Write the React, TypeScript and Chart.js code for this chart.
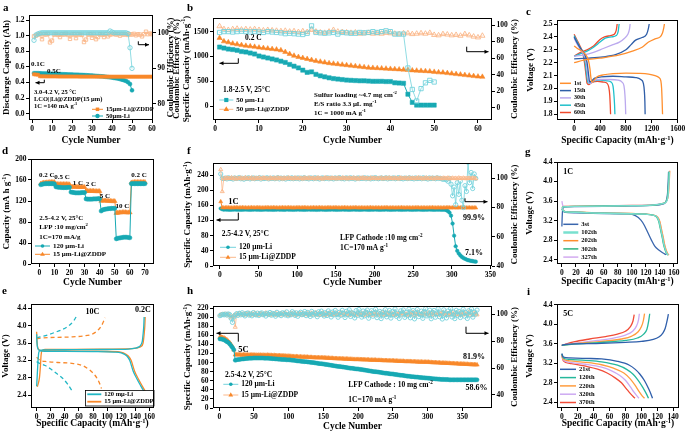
import React, { useEffect, useRef } from 'react';
import { Chart, registerables } from 'chart.js';
Chart.register(...registerables);

const FF = "'Liberation Serif','Times New Roman','DejaVu Serif',serif";
const ORANGE = '#f8882a';
const TEAL = '#17a9b3';
const LORANGE = '#fbb88a';
const LTEAL = '#74d3dc';

// ---------- panel a ----------
const aCapZddp = [0.505,0.502,0.5,0.48,0.479,0.479,0.478,0.478,0.478,0.478,
  0.478,0.478,0.477,0.477,0.477,0.477,0.477,0.477,0.477,0.477,
  0.477,0.477,0.477,0.476,0.476,0.476,0.476,0.476,0.476,0.476,
  0.476,0.476,0.476,0.476,0.476,0.476,0.475,0.475,0.475,0.475,
  0.475,0.475,0.475,0.475,0.475,0.475,0.475,0.475,0.475,0.475,
  0.475,0.475,0.475,0.475,0.475,0.475,0.475,0.475,0.475,0.475];
const aCapLi = [0.52,0.52,0.52,0.518,0.517,0.516,0.515,0.514,0.513,0.512,
  0.511,0.51,0.509,0.508,0.507,0.506,0.505,0.504,0.503,0.502,
  0.501,0.5,0.499,0.498,0.497,0.495,0.494,0.492,0.491,0.489,
  0.487,0.485,0.483,0.481,0.479,0.476,0.473,0.47,0.467,0.463,
  0.459,0.455,0.45,0.444,0.437,0.429,0.42,0.405,0.38,0.3];
const aCeZddp = [99.0,99.2,99.5,99.6,98.2,99.6,99.5,99.7,97.3,97.8,
  99.5,99.6,99.4,98.8,99.6,99.5,99.7,99.4,98.3,99.5,
  99.6,98.5,99.6,99.5,99.4,97.4,98.1,99.5,99.6,98.6,
  99.5,98.2,98.8,99.6,99.5,98.8,99.6,99.0,99.5,99.6,
  99.7,99.5,99.6,99.2,99.6,99.5,99.6,99.4,99.6,99.5,
  99.7,99.3,99.6,99.5,99.0,99.6,100.3,99.6,99.8,99.6];
const aCeLi = [97.9,99.4,99.7,99.9,100,100,100,100,100,100,
  100,100,100,100,100,100,100,100,100,100,
  100,100,100,100,100,100,100,100,100,100,
  100,100,100,100,100,100,100,100,100.5,100.2,
  100,100,100,100,100,100,100,99.8,95.8,90];

// ---------- panel b ----------
const bCapLi = [1190,1170,1150,1140,1125,1100,1090,1070,1050,1010,
  990,970,950,930,905,880,840,805,770,725,
  680,690,640,610,590,570,555,545,535,525,
  520,515,510,510,505,500,500,500,495,495,
  470,465,460,240,75,20,20,20,20,20];
const bCapZddp = [1375,1305,1285,1260,1245,1230,1215,1205,1195,1180,
  1170,1160,1150,1140,1125,1090,1050,1015,990,970,
  950,930,910,895,880,865,855,845,835,825,
  815,805,795,785,775,770,765,760,755,750,
  745,740,735,730,720,715,710,705,700,690,
  680,675,665,655,645,635,625,615,605,595,590];
const bCeLi = [91,92,92,91.5,92,92.5,92,91.5,92,91.5,
  91,92,91.5,91,90.5,89.5,90,89.5,89,88.5,
  90,99,91,90.5,90,90.5,91,89,91,90.5,
  90,90,91,90.5,91,92,91,92,93,92,
  89,89,89,48,22,8,23,30,33,31];
const bCeZddp = [98.5,95,94,95,95.5,94.5,95,94.5,95,94,
  93.5,94,93.5,93,92.5,93,92,92.5,91.5,92.5,
  91.5,94,92,91,90.5,92,94,92,91.5,91,
  90.5,91,89.5,90,90.5,89.5,90,89.5,90.5,90,
  89.5,89,90,90,89,89.5,90,89.5,90.5,88,
  87.5,89,88.5,87.5,88,87,89,87.5,86,85,87];

// ---------- panel c ----------
const c1Dis = [[0,2.33],[50,2.31],[120,2.29],[180,2.26],[220,2.22],[245,2.15],[260,2.08],[275,2.05],[300,2.06],[350,2.09],[450,2.105],[600,2.115],[800,2.12],[1000,2.118],[1150,2.112],[1250,2.1],[1310,2.085],[1340,2.06],[1352,2.0],[1360,1.9],[1366,1.8]];
const c1Chg = [[0,2.2],[150,2.22],[400,2.235],[700,2.26],[900,2.29],[1050,2.32],[1150,2.36],[1250,2.385],[1330,2.4],[1365,2.43],[1385,2.47],[1395,2.5]];
const c15Dis = [[0,2.4],[40,2.36],[100,2.31],[160,2.27],[200,2.2],[225,2.1],[240,2.05],[270,2.06],[320,2.08],[420,2.09],[600,2.095],[800,2.09],[950,2.085],[1030,2.07],[1070,2.04],[1085,1.98],[1093,1.9],[1097,1.8]];
const c15Chg = [[0,2.23],[200,2.235],[450,2.245],[650,2.265],[800,2.3],[880,2.34],[950,2.375],[1050,2.395],[1120,2.42],[1145,2.46],[1160,2.5]];
const c30Dis = [[0,2.39],[40,2.35],[100,2.3],[150,2.26],[185,2.2],[210,2.1],[225,2.05],[250,2.04],[300,2.06],[400,2.07],[550,2.07],[680,2.065],[740,2.05],[770,2.02],[785,1.95],[793,1.87],[797,1.8]];
const c30Chg = [[0,2.25],[150,2.26],[300,2.28],[450,2.31],[600,2.34],[700,2.36],[780,2.39],[830,2.42],[855,2.46],[865,2.5]];
const c45Dis = [[0,2.41],[40,2.37],[90,2.32],[140,2.27],[170,2.2],[195,2.1],[210,2.05],[240,2.04],[290,2.055],[400,2.065],[500,2.06],[570,2.05],[600,2.02],[615,1.95],[625,1.87],[630,1.8]];
const c45Chg = [[0,2.25],[100,2.27],[200,2.29],[300,2.32],[400,2.36],[480,2.39],[580,2.4],[650,2.41],[680,2.44],[695,2.5]];
const c60Dis = [[0,2.42],[40,2.38],[90,2.33],[130,2.28],[160,2.2],[185,2.1],[200,2.04],[225,2.03],[270,2.045],[360,2.055],[450,2.05],[510,2.04],[535,2.01],[550,1.95],[558,1.87],[563,1.8]];
const c60Chg = [[0,2.25],[100,2.28],[200,2.3],[300,2.33],[400,2.38],[470,2.4],[560,2.41],[620,2.42],[650,2.45],[665,2.5]];

// ---------- panel d ----------
const dCapLi = [151,152,152.5,153,153,153,153,153,153,152.5,
  147,146.5,146,146,145.5,145.5,145.5,145.5,146,146,
  137,136.5,136,135.5,135.5,135.5,135.5,136,136,136,
  124,123.5,123.5,123.5,123.5,124,124,124,124.5,124.5,
  101,103,104,104.5,105,105.5,105.5,106,106,106,
  48,49,49.5,50,50.5,51,51,51,50.5,50,
  153,153,153,153,153,153,153,153,153,153];
const dCapZddp = [153,154,155,155,155.5,155.5,156,156,156,156,
  152.5,152,152,152,152,152,152,152,152,151.5,
  147,147,147,147,147,146.5,146.5,146.5,146.5,146.5,
  139,139,139,139,139,139,138.5,138.5,138.5,138.5,
  120,120.5,120.5,120.5,120,120,120,119.5,119.5,119.5,
  97,97.5,98,98,98.5,98.5,98.5,98,98,98,
  155,155.5,156,156,156,156,156,156,156,156];

// ---------- panel e ----------
const eLi02Chg = [[0,2.6],[1,2.9],[2,3.2],[3,3.38],[5,3.43],[10,3.44],[50,3.445],[100,3.45],[130,3.46],[140,3.48],[145,3.51],[148,3.56],[150,3.65],[151,3.8],[152,4.0],[152.5,4.2]];
const eLi02Dis = [[0,3.8],[0.5,3.6],[1.5,3.48],[4,3.43],[10,3.41],[40,3.405],[80,3.4],[110,3.39],[120,3.37],[128,3.3],[132,3.2],[137,2.95],[142,2.78],[147,2.63],[151,2.52],[152,2.5]];
const eZ02Chg = [[1,2.59],[4,2.8],[5.5,3.1],[6.2,3.3],[7.5,3.42],[12,3.45],[50,3.455],[100,3.46],[135,3.47],[143,3.49],[148,3.52],[151,3.6],[152.5,3.8],[153.5,4.0],[154,4.2]];
const eZ02Dis = [[0,3.86],[0.5,3.65],[1.5,3.5],[4,3.44],[10,3.42],[40,3.415],[80,3.41],[115,3.4],[123,3.37],[130,3.3],[134,3.2],[139,2.95],[144,2.78],[149,2.63],[153,2.52],[154,2.5]];
const eLi10Chg = [[0,3.72],[5,3.74],[15,3.78],[25,3.84],[35,3.9],[45,3.99],[52,4.1],[56,4.2]];
const eZ10Chg = [[0,3.7],[10,3.72],[30,3.73],[50,3.74],[65,3.76],[78,3.8],[86,3.88],[92,4.0],[95,4.1],[97,4.18]];
const eLi10Dis = [[0,3.17],[5,3.12],[12,3.08],[20,3.0],[28,2.9],[36,2.8],[44,2.65],[50,2.5]];
const eZ10Dis = [[0,3.27],[5,3.2],[15,3.17],[30,3.15],[50,3.13],[65,3.08],[75,2.98],[83,2.85],[89,2.68],[92,2.55]];

// ---------- panel f (every 2nd cycle: 1,3,...,331) ----------
const fCapLi = [152,150,
  149,149.5,149,149,148.5,149,149,149.5,149,149,
  149,148.5,149,149,149.5,149,149,148.5,149,149,
  149.5,149,149,149,148.5,149,149,149.5,149,149,
  149,149,148.5,149,149,149.5,149,149,149,148.5,
  149,149.5,149,149,149,148.5,149,149,149.5,149,
  149,149,148.5,149,149,149.5,149,149,149,149,
  148.5,149,149,149.5,149,149,148.5,149,149,149,
  149.5,149,149,148.5,149,149,149,149.5,149,149,
  149,148.5,149,149,149.5,149,149,149,148.5,149,
  149,149.5,149,149,148.5,149,149,149,149.5,149,
  149,148.5,149,149,149,149.5,149,149,148.5,149,
  149,149,149.5,149,149,148.5,149,149,149,149.5,
  149,149,148.5,149,149,149,149.5,149,149,148.5,
  149,149,149,149.5,149,149,148.5,149,149,149,
  149,148.5,149,
  148.5,147.5,145,141,133,112,80,52,40,33,28,24,21,19,17,15.5,14.5,13.5,13,12,11.5];
const fCapZddp = [170,154,
  154,154,154.5,154,154,153.5,154,154,154.5,154,
  154,154,154.5,154,154,153.5,154,154,154.5,154,
  154,154,154.5,154,154,153.5,154,154,154.5,154,
  154,154,154.5,154,154,153.5,154,154,154.5,154,
  154,154,154.5,154,154,153.5,154,154,154.5,154,
  154,154,154.5,154,154,153.5,154,154,154.5,154,
  154,154,154.5,154,154,153.5,154,154,154.5,154,
  154,154,154.5,154,154,153.5,154,154,154.5,154,
  154,153.5,154,154,154,154.5,154,153.5,154,154,
  154,153.5,154,154,154,154.5,154,153.5,154,154,
  154,153.5,154,154,154,154.5,154,153.5,154,154,
  154,153.5,154,154,154,154.5,154,153.5,154,154,
  154,153.5,154,154,154,154.5,154,153.5,154,154,
  154,153.5,154,154,154,154.5,154,153.5,154,154,
  154,153.5,154,154,154,154.5,154,153.5,154,154,
  154,153.5,154,154,154,154.5,154,153.5,154,154,
  153.5,153.5,154,153.5];
const fCeLi = [103,100,
  99.8,100.2,99.6,100.4,99.9,100.1,99.5,100.3,99.9,100,
  100.5,99.7,100.1,99.4,100.2,99.9,100.4,99.6,100,100.3,
  99.7,100.1,99.9,100.5,99.5,100.2,99.8,100,100.4,99.6,
  100.1,99.9,100.3,99.7,100,100.5,99.6,100.2,99.8,100.1,
  99.5,100.3,100,99.8,100.4,99.7,100.1,99.9,100.3,99.6,
  100.2,99.8,100.5,99.9,100,99.6,100.3,100.1,99.7,100.4,
  99.9,100.2,99.5,100.1,100.3,99.8,100,100.4,99.7,100.2,
  100,99.6,100.3,99.9,100.1,100.5,99.8,100,99.6,100.3,
  100.1,99.7,100.4,99.9,100.2,99.5,100,100.3,99.8,100.1,
  99.9,100.4,99.7,100.2,100,99.6,100.3,99.8,100.5,100,
  99.7,100.1,100.3,99.8,100,100.4,99.6,100.2,99.9,100.1,
  100.3,99.7,100,100.5,99.8,100.1,99.6,100.2,100,99.8,
  100.4,99.9,100.1,99.6,100.3,99.8,100,100.2,99.7,100.4,
  99.9,100.1,99.5,100.3,99.8,100.2,100,99.7,100.4,99.9,
  100.1,99.6,99.3,
  99.5,99,98,100,96,88,94,82,97,89,98,85,80,95,91,111,97,104,93,103,100];
const fCeZddp = [106,91,
  100.1,99.7,100.3,99.9,100,100.4,99.8,100.2,99.6,100.1,
  99.9,100.3,99.7,100,100.5,99.8,100.1,99.9,100.3,99.6,
  100.2,99.8,100,100.4,99.7,100.1,100.3,99.9,100,99.6,
  100.3,100,99.8,100.2,99.7,100.4,99.9,100.1,99.6,100.2,
  99.8,100.1,100.4,99.9,100,99.7,100.3,100.1,99.8,100.2,
  100,99.6,100.3,100.1,99.8,100.4,99.9,100,100.2,99.7,
  100.1,100.3,99.8,100,99.6,100.2,100.4,99.9,100.1,99.8,
  100.2,99.9,100.1,99.7,100.3,100,99.8,100.4,99.9,100.1,
  99.7,100.2,100,99.9,100.3,99.8,100.1,99.6,100.2,100,
  100.4,99.8,100.1,100,99.7,100.3,99.9,100.2,100,99.8,
  100.1,99.9,100.3,99.7,100,100.2,99.8,100.4,99.9,100.1,
  99.8,100.2,100,99.6,100.3,100.1,99.9,100,100.2,99.7,
  100.3,99.9,100.1,100,99.8,100.2,100.4,99.9,100,99.7,
  100.1,100.3,99.8,100,99.9,100.2,99.7,100.1,100.3,99.9,
  100,99.8,100.2,100.1,99.9,100.3,99.7,100,100.2,99.9,
  100.1,99.8,100.3,100,99.9,100.2,100,99.8,100.1,100,
  99.9,100.2,100,99.8];

// ---------- panel g ----------
const g3Chg = [[0,3.08],[0.5,3.3],[1.5,3.45],[4,3.48],[20,3.485],[60,3.49],[100,3.5],[130,3.51],[145,3.54],[149,3.6],[151,3.75],[152,4.0],[152.5,4.2]];
const g3Dis = [[0,3.43],[3,3.38],[20,3.36],[60,3.345],[95,3.335],[105,3.3],[113,3.21],[118,3.1],[123,2.95],[128,2.8],[133,2.67],[138,2.6],[144,2.54],[149,2.5]];
const g102Chg = [[0,3.45],[2,3.48],[20,3.49],[60,3.495],[100,3.505],[130,3.515],[145,3.55],[150,3.6],[152,3.75],[153,4.0],[153.5,4.2]];
const g102Dis = [[0,3.44],[2,3.4],[5,3.38],[20,3.37],[60,3.35],[100,3.34],[120,3.33],[130,3.31],[136,3.27],[139,3.18],[141,3.05],[144,2.85],[146,2.7],[148,2.6],[150,2.53],[152,2.49]];
const g202Chg = [[0,3.47],[3,3.49],[20,3.495],[60,3.5],[100,3.51],[130,3.52],[145,3.555],[150,3.61],[152.5,3.76],[153.5,4.0],[154.2,4.22]];
const g202Dis = [[0,3.45],[2,3.41],[5,3.385],[20,3.375],[60,3.355],[100,3.345],[120,3.335],[131,3.31],[137,3.27],[140,3.18],[142,3.05],[145,2.85],[147,2.7],[149,2.6],[151,2.53],[153,2.49]];
const g302Chg = [[0,3.46],[2,3.48],[20,3.49],[60,3.5],[100,3.505],[130,3.515],[145,3.55],[149.5,3.6],[151.5,3.75],[152.5,4.0],[153,4.2]];
const g302Dis = [[0,3.44],[2,3.4],[5,3.38],[20,3.37],[60,3.35],[100,3.34],[120,3.33],[130,3.31],[135.5,3.27],[138.5,3.18],[140.5,3.05],[143.5,2.85],[145.5,2.7],[147.5,2.6],[149.5,2.53],[151.5,2.49]];
const g327Chg = [[0,3.6],[1,3.52],[3,3.49],[20,3.49],[60,3.5],[100,3.51],[130,3.52],[145,3.55],[150,3.6],[152,3.75],[153,4.0],[153.8,4.2]];
const g327Dis = [[0,3.46],[2,3.41],[5,3.385],[20,3.37],[60,3.35],[100,3.34],[120,3.33],[130,3.31],[136,3.27],[139,3.18],[141,3.05],[144,2.85],[146,2.7],[148,2.6],[150,2.53],[152,2.49]];

// ---------- panel h (every 2nd cycle: 1,3,...,371) ----------
const hCapZddp = [156,156,155,154,152,150,147,144,140,135,128,117,
  117,117.5,117,117,116.5,117,117,116.5,117,116.5,116.5,117,116.5,
  116.5,116.5,116,116.5,116.5,116,116.5,116,116,116.5,116,116,
  116,115.5,116,115.5,115.5,115,115.5,115,114.5,115,114.5,114,114.5,
  114,114,113.5,113.5,113,113.5,113,112.5,113,112.5,112,112.5,
  112,112,111.5,111.5,111.5,111,111,111,110.5,111,110.5,110.5,110.5,
  110.5,110,110,110,109.5,109.5,109.5,109,109,109,108.5,108.5,
  108.5,108.5,108,108,108,108,107.5,107.5,107.5,107,107,107,107,
  107,106.5,106.5,106.5,106,106,106,106,105.5,105.5,105.5,105.5,
  105.5,105,105,105,105,104.5,104.5,104.5,104.5,104,104,104,104,
  104,103.5,103.5,103.5,103,103,103,103,102.5,102.5,102.5,102.5,
  102.5,102,102,102,102,101.5,101.5,101.5,101.5,101,101,101,101,
  101,100.5,100.5,100,100,100,99.5,99.5,99.5,99,99,99,
  99,98.5,98.5,98.5,98,98,98,97.5,97.5,97.5,97,97,97,
  97,96.5,96.5,96.5,96,96,95.5,95.5,95.5,95,95];
const hCapLi = [152,152,151,150,148,146,144,141,137,133,128,105,
  106,106.5,107,107.5,108,108,108.5,109,109,109.5,109.5,109.5,110,
  110,110,110,110,110,110,110,109.5,109.5,109.5,109.5,109,
  109,108.5,108.5,108,108,107.5,107.5,107,107,106.5,106.5,106,106,
  106,105.5,105,105,104.5,104,103.5,103.5,103,102.5,102.5,102,
  102,101.5,101,100.5,100,100,99.5,99,98.5,98,97.5,97.5,97,
  96.5,96,95.5,95,94.5,94,93.5,93,92.5,92,91.5,91.5,
  91,90.5,90,89.5,89,88.5,88,87.5,87.5,87,86.5,86,86,
  85.5,85,84.5,84,83.5,83,82.5,82,81.5,81,80.5,80,
  80,79.5,79,78.5,78,77.5,77,76.5,76.5,76,75.5,75,75,
  74.5,74,73.5,73,72.5,72,72,71.5,71,70.5,70,70,
  69.5,69,69,68.5,68,68,67.5,67,67,66.5,66.5,66,66,
  65.5,65.5,65,64.5,64.5,64,64,63.5,63.5,63,63,63,
  62.5,62.5,62.5,62,62,62,62,62,62,62,62,62,62,
  62,62,62,62,62,62,62,62,62,62,62];
const hCeLi = [99,99.5,100,99.6,100.2,99.4,100.3,99.8,97,94,98,99.5,
  100.5,99.2,100.8,99.6,101.2,99.9,98.8,100.6,101,99.4,100.2,98.9,101.3,100,99.5,100.9,99.1,100.4,101.1,99.7,100.3,98.7,100.8,99.9,101.4,
  99.3,100.7,100.1,98.6,101.5,99.8,100.4,99,101.2,100.6,99.5,101.8,98.9,100.2,99.6,102,100.9,99.2,101.1,98.5,100.5,101.6,99.7,100.3,102.1,
  99,101.4,100,98.4,102.2,99.5,101,100.6,98.2,101.9,99.8,102.4,100.3,98.7,101.3,99.1,102.6,100.7,98,101.7,99.6,102.9,100.2,97.8,101.5,
  99.3,103,100.8,97.6,102.3,99.9,103.4,98.4,101.1,100.5,97.3,102.8,99.2,103.6,100.1,97.9,102.5,98.8,101.8,103.2,97.1,100.6,102.7,98.6,101.3,
  103.8,97.5,100.9,102.2,96.8,101.6,99.4,103.5,98.1,100.3,102.9,97.2,101.9,99.7,104,98.5,100.8,96.9,102.6,100.2,103.3,97.7,101.4,99.1,103.9,
  97.4,100.7,102.8,96.6,101.2,103.6,98.3,100,102.4,97,101.8,104.2,98.8,99.6,103.1,96.7,101.5,102.9,97.8,100.4,104.1,98.2,101,96.5,103.4,
  99.9,97.3,102.5,100.6,104.3,98,101.7,96.8,103,99.3,102.2,97.6,100.9,103.8,98.6,101.3,96.9,102.7,99.5,104,97.9,101.6,100.1,103.2];
const hCeZddp = [99.5,100,99.8,100.2,99.6,100.1,99.7,99,97.5,98.5,99.2,90.5,
  100.3,99.6,100.8,99.9,100.2,99.4,100.6,100,99.7,100.9,99.5,100.4,99.8,101,100.1,99.3,100.7,99.9,100.5,99.6,100.2,101.1,99.8,100.3,99.5,
  100.8,99.7,100.1,101,99.4,100.5,99.9,100.7,99.6,100.3,101.2,99.8,100,99.3,100.9,100.2,99.7,101.1,99.5,100.4,99.9,100.8,99.4,100.6,100.1,
  99.8,101,99.5,100.3,100.9,99.6,100.2,101.3,99.4,100.7,99.9,100.4,101.1,99.3,100.6,100,99.7,101.2,99.5,100.8,100.1,99.6,101,99.8,100.5,
  101.3,99.4,100.6,99.9,101,100.2,99.3,100.8,101.4,99.7,100.1,99.5,101.2,100.4,99.8,100.9,99.2,100.5,101.5,99.6,100.3,99.9,101.1,99.4,100.7,
  100,101.3,99.5,100.8,99.7,101.5,100.2,99.3,100.9,101.1,99.6,100.4,99.9,101.4,99.2,100.6,100.1,101,99.5,100.8,101.6,99.7,100.3,99.4,101.2,
  99.8,100.9,101.5,99.3,100.5,99.9,101.3,100.1,99.5,101.7,99.7,100.6,100.2,101.1,99.4,100.8,101.6,99.6,100.3,99.9,101.2,99.5,100.7,101.4,99.8,
  100.4,101.1,99.3,100.9,99.7,101.6,100.2,99.5,101.3,100,99.8,101.5,99.4,100.6,101.2,99.9,100.3,101.7,99.6,100.8,99.5,101,100.4,99.7];

// ---------- panel i ----------
const i21Chg = [[0,3.57],[5,3.59],[20,3.6],[50,3.61],[80,3.63],[100,3.65],[115,3.69],[122,3.74],[127,3.82],[130,3.92],[132,4.05],[134,4.21]];
const i120Chg = [[0,3.57],[20,3.6],[50,3.63],[80,3.67],[95,3.72],[103,3.8],[107,3.9],[109,4.05],[110.5,4.22]];
const i220Chg = [[0,3.57],[20,3.61],[50,3.65],[75,3.7],[88,3.76],[96,3.85],[100,3.95],[102.5,4.08],[104,4.22]];
const i320Chg = [[0,3.57],[20,3.62],[45,3.67],[65,3.72],[80,3.78],[89,3.86],[94,3.97],[96.5,4.1],[97.5,4.22]];
const i370Chg = [[0,3.57],[15,3.64],[35,3.7],[55,3.75],[70,3.8],[80,3.86],[86,3.95],[89.5,4.07],[91,4.2]];
const i21Dis = [[0,3.4],[2,3.33],[10,3.31],[30,3.3],[50,3.29],[70,3.24],[85,3.16],[92,3.08],[98,2.98],[104,2.84],[109,2.68],[112,2.57],[114,2.48]];
const i120Dis = [[0,3.39],[2,3.31],[10,3.28],[30,3.26],[50,3.23],[70,3.16],[82,3.07],[90,2.97],[96,2.85],[102,2.7],[106,2.58],[109,2.48]];
const i220Dis = [[0,3.38],[2,3.29],[10,3.25],[30,3.22],[50,3.17],[65,3.1],[78,3.0],[86,2.88],[92,2.75],[97,2.62],[101,2.53],[104,2.48]];
const i320Dis = [[0,3.37],[2,3.27],[10,3.22],[30,3.18],[50,3.12],[62,3.05],[73,2.95],[80,2.85],[86,2.72],[91,2.6],[95,2.52],[97,2.48]];
const i370Dis = [[0,3.36],[2,3.25],[10,3.2],[30,3.14],[45,3.08],[57,3.0],[67,2.9],[75,2.8],[81,2.68],[86,2.58],[90,2.51],[92,2.48]];

// ---------- tick labels ----------
const cycTicks60 = [0, 10, 20, 30, 40, 50, 60];
const cycTicks70 = [0, 10, 20, 30, 40, 50, 60, 70];
const cycTicks350 = [0, 50, 100, 150, 200, 250, 300, 350];
const aYTicks = [0, 0.2, 0.4, 0.6, 0.8, 1.0, 1.2];
const aY2Ticks = [80, 90, 100];
const bYTicks = [0, 500, 1000, 1500];
const bY2Ticks = [0, 20, 40, 60, 80, 100];
const cXTicks = [0, 400, 800, 1200, 1600];
const cYTicks = [1.8, 1.9, 2.0, 2.1, 2.2, 2.3, 2.4, 2.5];
const dYTicks = [0, 40, 80, 120, 160, 200];
const fYTicks = [0, 40, 80, 120, 160, 200, 240];
const fY2Ticks = [40, 60, 80, 100];
const vTicks = [2.4, 2.8, 3.2, 3.6, 4.0, 4.4];
const capTicks160 = [0, 20, 40, 60, 80, 100, 120, 140, 160];
const capTicks140 = [0, 20, 40, 60, 80, 100, 120, 140];
const hYTicks = [0, 20, 40, 60, 80, 100, 120, 140, 160, 180, 200, 220];
const hY2Ticks = [40, 60, 80, 100];

// ---------- helpers ----------
const xy = (ys: number[], start = 1, step = 1) => ys.map((y, i) => ({ x: start + i * step, y }));
const pts = (p: number[][]) => p.map(([x, y]) => ({ x, y }));

function drawRich(ctx: any, text: string, x: number, y: number, size: number, align: string, rot: number, color: string) {
  const parts: { t: string; sup: boolean }[] = [];
  const re = /\^\{([^}]*)\}/g;
  let last = 0;
  let m: any;
  while ((m = re.exec(text))) {
    if (m.index > last) parts.push({ t: text.slice(last, m.index), sup: false });
    parts.push({ t: m[1], sup: true });
    last = re.lastIndex;
  }
  if (last < text.length) parts.push({ t: text.slice(last), sup: false });
  const fnt = (sup: boolean) => `bold ${sup ? size * 0.68 : size}px ${FF}`;
  let w = 0;
  for (const p of parts) { ctx.font = fnt(p.sup); w += ctx.measureText(p.t).width; }
  ctx.save();
  ctx.translate(x, y);
  if (rot) ctx.rotate((rot * Math.PI) / 180);
  ctx.fillStyle = color;
  ctx.textBaseline = 'middle';
  ctx.textAlign = 'left';
  let cx = align === 'center' ? -w / 2 : align === 'right' ? -w : 0;
  for (const p of parts) {
    ctx.font = fnt(p.sup);
    ctx.fillText(p.t, cx, p.sup ? -size * 0.33 : 0);
    cx += ctx.measureText(p.t).width;
  }
  ctx.restore();
}

function drawMarker(ctx: any, kind: string, x: number, y: number, r: number, color: string, fill: boolean) {
  ctx.beginPath();
  if (kind === 'circle') ctx.arc(x, y, r, 0, Math.PI * 2);
  else if (kind === 'rect') ctx.rect(x - r * 0.8, y - r * 0.8, r * 1.6, r * 1.6);
  else { ctx.moveTo(x, y - r * 1.1); ctx.lineTo(x + r, y + r * 0.65); ctx.lineTo(x - r, y + r * 0.65); ctx.closePath(); }
  if (fill) { ctx.fillStyle = color; ctx.fill(); } else { ctx.strokeStyle = color; ctx.lineWidth = 1; ctx.stroke(); }
}

function decoPlugin(box: any, d: any) {
  return {
    id: 'deco',
    afterDraw(chart: any) {
      const ctx = chart.ctx;
      const a = chart.chartArea;
      ctx.save();
      ctx.strokeStyle = '#000';
      ctx.lineWidth = 1;
      ctx.strokeRect(Math.round(a.left) + 0.5, Math.round(a.top) + 0.5, Math.round(a.right - a.left) - 1, Math.round(a.bottom - a.top) - 1);
      ctx.translate(-box.left, -box.top);
      for (const ar of d.arrows || []) {
        ctx.strokeStyle = '#000'; ctx.lineWidth = 1; ctx.setLineDash([]);
        ctx.beginPath();
        ar.forEach((p: number[], i: number) => (i ? ctx.lineTo(p[0], p[1]) : ctx.moveTo(p[0], p[1])));
        ctx.stroke();
        const [x1, y1] = ar[ar.length - 2];
        const [x2, y2] = ar[ar.length - 1];
        const an = Math.atan2(y2 - y1, x2 - x1);
        const hl = 4, hw = 2;
        ctx.beginPath();
        ctx.moveTo(x2, y2);
        ctx.lineTo(x2 - hl * Math.cos(an) + hw * Math.sin(an), y2 - hl * Math.sin(an) - hw * Math.cos(an));
        ctx.lineTo(x2 - hl * Math.cos(an) - hw * Math.sin(an), y2 - hl * Math.sin(an) + hw * Math.cos(an));
        ctx.closePath(); ctx.fillStyle = '#000'; ctx.fill();
      }
      for (const lg of d.legends || []) {
        if (lg.box) { ctx.strokeStyle = '#000'; ctx.lineWidth = 0.8; ctx.strokeRect(lg.box[0] + 0.5, lg.box[1] + 0.5, lg.box[2] - lg.box[0], lg.box[3] - lg.box[1]); }
        lg.items.forEach((it: any, i: number) => {
          const y = lg.y + i * lg.dy;
          ctx.strokeStyle = it.lc || it.color; ctx.lineWidth = it.lw || 1;
          ctx.beginPath(); ctx.moveTo(lg.x, y); ctx.lineTo(lg.x + lg.len, y); ctx.stroke();
          if (it.marker) drawMarker(ctx, it.marker, lg.x + lg.len / 2, y, it.r || 2.2, it.color, true);
          drawRich(ctx, it.label, lg.x + lg.len + 3, y, lg.s, 'left', 0, '#000');
        });
      }
      for (const t of d.texts || []) drawRich(ctx, t.t, t.x, t.y, t.s || 7.5, t.a || 'left', t.rot || 0, t.c || '#000');
      ctx.restore();
    },
  };
}

function buildConfig(box: any, xa: any, ya: any, y2: any, datasets: any[], deco: any, tickSize = 7.5) {
  const tickFont = { family: FF, size: tickSize, weight: 'bold' };
  const mk = (ax: any, pos: string, fit: (s: any) => void) => ({
    type: 'linear', position: pos, min: ax.min, max: ax.max, bounds: 'data',
    afterBuildTicks: (s: any) => { s.ticks = ax.ticks.map((v: number) => ({ value: v })); },
    afterFit: fit,
    grid: { display: true, drawOnChartArea: false, drawTicks: true, tickLength: 3, color: '#000', lineWidth: 1 },
    border: { display: false },
    ticks: { font: tickFont, color: '#000', padding: 1.5, autoSkip: false, maxRotation: 0, minRotation: 0,
      callback: (v: any) => (ax.dec != null ? Number(v).toFixed(ax.dec) : String(v)) },
    title: { display: false },
  });
  const scales: any = {
    x: mk(xa, 'bottom', (s: any) => { s.height = box.top + box.height - box.B; s.paddingLeft = 0; s.paddingRight = 0; }),
    y: mk(ya, 'left', (s: any) => { s.width = box.L - box.left; s.paddingTop = 0; s.paddingBottom = 0; }),
  };
  if (y2) scales.y2 = mk(y2, 'right', (s: any) => { s.width = box.left + box.width - box.R; s.paddingTop = 0; s.paddingBottom = 0; });
  return {
    type: 'scatter',
    data: { datasets },
    options: {
      responsive: false, animation: false, events: [],
      layout: { padding: { top: box.T - box.top, left: 0, right: y2 ? 0 : box.left + box.width - box.R, bottom: 0 } },
      plugins: { legend: { display: false }, tooltip: { enabled: false }, title: { display: false } },
      scales,
    },
    plugins: [decoPlugin(box, deco)],
  };
}

const filled = (data: any[], color: string, style: string, r: number, lineColor?: string, axis = 'y') => ({
  data, yAxisID: axis, showLine: true, borderColor: lineColor || color, borderWidth: 1,
  pointStyle: style, pointRadius: r, pointBackgroundColor: color, pointBorderColor: color, pointBorderWidth: 0.5,
});
const hollow = (data: any[], color: string, style: string, r: number, axis = 'y2') => ({
  data, yAxisID: axis, showLine: true, borderColor: color, borderWidth: 0.8,
  pointStyle: style, pointRadius: r, pointBackgroundColor: 'rgba(255,255,255,0)', pointBorderColor: color, pointBorderWidth: 0.9,
});
const curve = (p: number[][], color: string, dash?: number[], w = 1.3) => ({
  data: pts(p), yAxisID: 'y', showLine: true, borderColor: color, borderWidth: w, pointRadius: 0,
  cubicInterpolationMode: 'monotone', borderDash: dash || [],
});

const T = (t: string, x: number, y: number, s = 7.5, a = 'left', rot = 0) => ({ t, x, y, s, a, rot });
const CAP = 'Specific Capacity (mAh·g^{-1})';
const CE = 'Coulombic Efficiency (%)';

const C_C = ['#ff8f2e', '#2f5ea8', '#bba9ee', '#20c0cb', '#ef4a2d'];
const G_C = ['#3a66ad', '#79e0cf', '#ff8d2e', '#2fb27e', '#d3aaf0'];
const I_C = ['#2f5fab', '#25b89c', '#ff9c3e', '#cda9f2', '#f14c38'];

const PANELS: any[] = [
  // a
  {
    box: { left: 0, top: 0, width: 175, height: 148, L: 29, T: 15, R: 153, B: 120 },
    build(box: any) {
      return buildConfig(box,
        { min: -1.5, max: 60.5, ticks: cycTicks60 },
        { min: -0.08, max: 1.265, ticks: aYTicks, dec: 1 },
        { min: 75.5, max: 105, ticks: aY2Ticks },
        [
          hollow(xy(aCeLi), LTEAL, 'circle', 2.2),
          hollow(xy(aCeZddp), LORANGE, 'rect', 2.4),
          filled(xy(aCapZddp), ORANGE, 'rect', 2.2),
          filled(xy(aCapLi), TEAL, 'circle', 2),
        ],
        {
          texts: [
            T('0.1C', 31, 64.5, 7), T('0.5C', 47, 71, 7),
            T('3.0-4.2 V, 25 °C', 34, 92, 6.5), T('LCO||Li@ZDDP(15 μm)', 34, 99.3, 6.5), T('1C =140 mA g^{-1}', 34, 106, 6.5),
            T('Discharge Capacity (Ah)', 7, 67.5, 9, 'center', -90),
            T(CE, 171, 67.5, 9, 'center', -90),
            T('Cycle Number', 91, 141, 9.5, 'center'),
          ],
          legends: [{ x: 92, y: 109.3, dy: 6.7, len: 11, s: 6.5, items: [
            { label: '15μm-Li@ZDDP', color: ORANGE, marker: 'rect' },
            { label: '50μm-Li', color: TEAL, marker: 'circle' },
          ] }],
          arrows: [[[44.3, 79.7], [44.3, 82.7], [35.5, 82.7]], [[138.3, 41.3], [138.3, 44.7], [149, 44.7]]],
        });
    },
  },
  // b
  {
    box: { left: 170, top: 0, width: 352, height: 148, L: 213, T: 18, R: 492, B: 120 },
    build(box: any) {
      return buildConfig(box,
        { min: -0.5, max: 63.2, ticks: cycTicks60 },
        { min: -280, max: 1776, ticks: bYTicks },
        { min: -15, max: 108.5, ticks: bY2Ticks },
        [
          hollow(xy(bCeLi), LTEAL, 'rect', 3),
          hollow(xy(bCeZddp), LORANGE, 'triangle', 3),
          filled(xy(bCapZddp), ORANGE, 'triangle', 3),
          filled(xy(bCapLi), TEAL, 'rect', 3),
        ],
        {
          texts: [
            T('0.2 C', 245, 38.3, 7.5), T('1.8-2.5 V, 25°C', 223, 90, 7.5),
            T('Sulfur loading ~4.7 mg cm^{-2}', 314, 95, 7), T('E/S ratio 3.3 μL mg^{-1}', 314, 104, 7), T('1C = 1000 mA g^{-1}', 314, 113.3, 7),
            T(CE, 177, 69, 9, 'center', -90),
            T(CAP, 186.5, 69, 9, 'center', -90),
            T(CE, 515, 69, 9, 'center', -90),
            T('Cycle Number', 352.5, 141, 9.5, 'center'),
          ],
          legends: [{ x: 219.3, y: 100, dy: 9.3, len: 14, s: 7, items: [
            { label: '50 μm-Li', color: TEAL, lc: LTEAL, marker: 'rect', r: 2.6 },
            { label: '50 μm-Li@ZDDP', color: ORANGE, lc: LORANGE, marker: 'triangle', r: 2.8 },
          ] }],
          arrows: [[[238.3, 58.3], [238.3, 63.3], [219.5, 63.3]], [[466.7, 46.7], [466.7, 51.7], [488.5, 51.7]]],
        });
    },
  },
  // c
  {
    box: { left: 522, top: 0, width: 163, height: 148, L: 557, T: 20, R: 678, B: 120 },
    build(box: any) {
      return buildConfig(box,
        { min: -265, max: 1605, ticks: cXTicks },
        { min: 1.756, max: 2.531, ticks: cYTicks, dec: 1 },
        null,
        [
          curve(c1Dis, C_C[0]), curve(c1Chg, C_C[0]),
          curve(c15Dis, C_C[1]), curve(c15Chg, C_C[1]),
          curve(c30Dis, C_C[2]), curve(c30Chg, C_C[2]),
          curve(c45Dis, C_C[3]), curve(c45Chg, C_C[3]),
          curve(c60Dis, C_C[4]), curve(c60Chg, C_C[4]),
        ],
        {
          texts: [
            T('Voltage (V)', 531, 70, 9, 'center', -90),
            T(CAP, 617.5, 141, 9.5, 'center'),
          ],
          legends: [{ x: 560, y: 83.3, dy: 7.3, len: 11, s: 6, items: [
            { label: '1st', color: C_C[0], lw: 1.5 }, { label: '15th', color: C_C[1], lw: 1.5 }, { label: '30th', color: C_C[2], lw: 1.5 },
            { label: '45th', color: C_C[3], lw: 1.5 }, { label: '60th', color: C_C[4], lw: 1.5 },
          ] }],
        });
    },
  },
  // d
  {
    box: { left: 0, top: 148, width: 175, height: 145, L: 31, T: 159, R: 154, B: 264 },
    build(box: any) {
      return buildConfig(box,
        { min: -5.5, max: 76, ticks: cycTicks70 },
        { min: 0, max: 200, ticks: dYTicks },
        null,
        [
          filled(xy(dCapLi), TEAL, 'circle', 2.1),
          filled(xy(dCapZddp), ORANGE, 'triangle', 2.7),
        ],
        {
          texts: [
            T('0.2 C', 46.7, 175, 7, 'center'), T('0.5 C', 62, 177.3, 7, 'center'), T('1 C', 78, 182.7, 7, 'center'),
            T('2 C', 91, 184.3, 7, 'center'), T('5 C', 105, 196, 7, 'center'), T('10 C', 122.5, 206, 7, 'center'),
            T('0.2 C', 139, 175, 7, 'center'),
            T('2.5-4.2 V, 25°C', 39.3, 217.7, 7), T('LFP :10 mg/cm^{2}', 39.3, 227.3, 7), T('1C=170 mA/g', 39.3, 237.3, 7),
            T('Capacity (mA h g^{-1})', 7, 211.5, 9, 'center', -90),
            T('Cycle Number', 92.5, 283, 9.5, 'center'),
          ],
          legends: [{ x: 35, y: 246, dy: 8.3, len: 15, s: 7, items: [
            { label: '120 μm-Li', color: TEAL, marker: 'circle', r: 1.8 },
            { label: '15 μm-Li@ZDDP', color: ORANGE, marker: 'triangle', r: 2.4 },
          ] }],
        });
    },
  },
  // f
  {
    box: { left: 170, top: 148, width: 352, height: 145, L: 213, T: 163, R: 492, B: 266 },
    build(box: any) {
      return buildConfig(box,
        { min: -9, max: 352, ticks: cycTicks350 },
        { min: 0, max: 272, ticks: fYTicks },
        { min: 40, max: 110.5, ticks: fY2Ticks },
        [
          hollow(xy(fCeZddp, 1, 2), LORANGE, 'triangle', 2.3),
          hollow(xy(fCeLi, 1, 2), LTEAL, 'circle', 2.1),
          filled(xy(fCapZddp, 1, 2), ORANGE, 'triangle', 2.3),
          filled(xy(fCapLi, 1, 2), TEAL, 'circle', 1.8),
        ],
        {
          texts: [
            T('1C', 228.3, 201.7, 8.5), T('99.9%', 474, 218.3, 8, 'center'), T('7.1%', 474, 253.3, 8, 'center'),
            T('2.5-4.2 V, 25°C', 221.7, 234.3, 7.5),
            T('LFP Cathode :10 mg cm^{-2}', 340, 238.3, 7.5), T('1C=170 mA g^{-1}', 340, 248.3, 7.5),
            T(CAP, 188, 214.5, 9, 'center', -90),
            T(CE, 515, 214.5, 9, 'center', -90),
            T('Cycle Number', 352.5, 283, 9.5, 'center'),
          ],
          legends: [{ x: 220, y: 247.3, dy: 10, len: 16, s: 7.5, items: [
            { label: '120 μm-Li', color: TEAL, lc: LTEAL, marker: 'circle', r: 1.8 },
            { label: '15 μm-Li@ZDDP', color: ORANGE, lc: LORANGE, marker: 'triangle', r: 2.4 },
          ] }],
          arrows: [[[238.3, 212.7], [238.3, 220], [216.5, 220]], [[465, 198.3], [465, 201.7], [487.5, 201.7]]],
        });
    },
  },
  // g
  {
    box: { left: 522, top: 148, width: 163, height: 145, L: 557, T: 162, R: 678, B: 264 },
    build(box: any) {
      return buildConfig(box,
        { min: -7, max: 166, ticks: capTicks160 },
        { min: 2.31, max: 4.4, ticks: vTicks, dec: 1 },
        null,
        [
          curve(g102Dis, G_C[1]), curve(g102Chg, G_C[1]),
          curve(g302Dis, G_C[3]), curve(g302Chg, G_C[3]),
          curve(g327Dis, G_C[4]), curve(g327Chg, G_C[4]),
          curve(g202Dis, G_C[2]), curve(g202Chg, G_C[2]),
          curve(g3Dis, G_C[0]), curve(g3Chg, G_C[0]),
        ],
        {
          texts: [
            T('1C', 563.3, 171.7, 8),
            T('Voltage (V)', 530, 213, 9, 'center', -90),
            T(CAP, 617.5, 282, 9.5, 'center'),
          ],
          legends: [{ x: 563.3, y: 224.3, dy: 8.2, len: 15, s: 6.5, items: [
            { label: '3st', color: G_C[0], lw: 1.5 }, { label: '102th', color: G_C[1], lw: 2.5 }, { label: '202th', color: G_C[2], lw: 1.5 },
            { label: '302th', color: G_C[3], lw: 1.5 }, { label: '327th', color: G_C[4], lw: 1.5 },
          ] }],
        });
    },
  },
  // e
  {
    box: { left: 0, top: 293, width: 175, height: 139, L: 31, T: 304, R: 154, B: 408 },
    build(box: any) {
      return buildConfig(box,
        { min: -8, max: 166.5, ticks: capTicks160 },
        { min: 2.1, max: 4.5, ticks: vTicks, dec: 1 },
        null,
        [
          curve(eLi02Chg, '#22b7c5'), curve(eLi02Dis, '#22b7c5'),
          curve(eZ02Chg, ORANGE), curve(eZ02Dis, ORANGE),
          curve(eLi10Chg, '#22b7c5', [4, 3]), curve(eLi10Dis, '#22b7c5', [4, 3]),
          curve(eZ10Chg, ORANGE, [4, 3]), curve(eZ10Dis, ORANGE, [4, 3]),
        ],
        {
          texts: [
            T('10C', 92.5, 312.3, 8, 'center'), T('0.2C', 143, 310, 8, 'center'),
            T('Voltage (V)', 6, 356, 9, 'center', -90),
            T(CAP, 92.5, 424, 9.5, 'center'),
          ],
          legends: [{ x: 87.3, y: 394.3, dy: 7.4, len: 14, s: 6.5, box: [85, 390, 153.5, 405.5], items: [
            { label: '120 mμ-Li', color: '#22b7c5', lw: 1.8 },
            { label: '15 μm-Li@ZDDP', color: ORANGE, lw: 1.8 },
          ] }],
        });
    },
  },
  // h
  {
    box: { left: 170, top: 293, width: 352, height: 139, L: 213, T: 306, R: 492, B: 408 },
    build(box: any) {
      return buildConfig(box,
        { min: -9, max: 392.5, ticks: cycTicks350 },
        { min: 0, max: 224.5, ticks: hYTicks },
        { min: 30.3, max: 106.2, ticks: hY2Ticks },
        [
          hollow(xy(hCeLi, 1, 2), LTEAL, 'circle', 2.1),
          hollow(xy(hCeZddp, 1, 2), LORANGE, 'triangle', 2.3),
          filled(xy(hCapLi, 1, 2), TEAL, 'circle', 2),
          filled(xy(hCapZddp, 1, 2), ORANGE, 'triangle', 2.5),
        ],
        {
          texts: [
            T('5C', 238.3, 350, 8.5), T('81.9%', 474, 356.7, 8, 'center'), T('58.6%', 476.5, 387.7, 8, 'center'),
            T('2.5-4.2 V, 25°C', 225, 375, 7.5),
            T('LFP Cathode : 10 mg cm^{-2}', 348.3, 385, 7.5), T('1C=170 mA g^{-1}', 348.3, 400, 7.5),
            T(CAP, 188, 357, 9, 'center', -90),
            T(CE, 515, 357, 9, 'center', -90),
            T('Cycle Number', 352.5, 427, 9.5, 'center'),
          ],
          legends: [{ x: 223.3, y: 384.3, dy: 10.7, len: 15, s: 7.5, items: [
            { label: '120 μm-Li', color: TEAL, lc: LTEAL, marker: 'circle', r: 1.8 },
            { label: '15 μm-Li@ZDDP', color: ORANGE, lc: LORANGE, marker: 'triangle', r: 2.4 },
          ] }],
          arrows: [[[238.3, 341.7], [238.3, 333.3], [216.5, 333.3]], [[466, 326.7], [466, 333.3], [488.5, 333.3]]],
        });
    },
  },
  // i
  {
    box: { left: 522, top: 293, width: 163, height: 139, L: 557, T: 304, R: 679, B: 408 },
    build(box: any) {
      return buildConfig(box,
        { min: -6, max: 147.3, ticks: capTicks140 },
        { min: 2.28, max: 4.42, ticks: vTicks, dec: 1 },
        null,
        [
          curve(i21Chg, I_C[0]), curve(i21Dis, I_C[0]),
          curve(i120Chg, I_C[1]), curve(i120Dis, I_C[1]),
          curve(i220Chg, I_C[2]), curve(i220Dis, I_C[2]),
          curve(i320Chg, I_C[3]), curve(i320Dis, I_C[3]),
          curve(i370Chg, I_C[4]), curve(i370Dis, I_C[4]),
        ],
        {
          texts: [
            T('5C', 563.3, 314.3, 8),
            T('Voltage (V)', 530, 356, 9, 'center', -90),
            T(CAP, 618, 424, 9.5, 'center'),
          ],
          legends: [{ x: 560, y: 369.3, dy: 8.3, len: 16, s: 6.5, items: [
            { label: '21st', color: I_C[0], lw: 1.5 }, { label: '120th', color: I_C[1], lw: 1.5 }, { label: '220th', color: I_C[2], lw: 1.5 },
            { label: '320th', color: I_C[3], lw: 1.5 }, { label: '370th', color: I_C[4], lw: 1.5 },
          ] }],
        });
    },
  },
];

const LETTERS = [
  ['a', 3, 1], ['b', 187, 1], ['c', 526, 5],
  ['d', 2, 144], ['f', 187, 144], ['g', 525, 145],
  ['e', 2, 284], ['h', 187, 284], ['i', 527, 285],
];

function ChartBox({ spec }: { spec: any }) {
  const ref = useRef<HTMLCanvasElement>(null);
  useEffect(() => {
    if (!ref.current) return;
    const chart = new Chart(ref.current, spec.build(spec.box));
    return () => chart.destroy();
  }, [spec]);
  const b = spec.box;
  return (
    <canvas ref={ref} width={b.width} height={b.height}
      style={{ position: 'absolute', left: b.left, top: b.top, width: b.width, height: b.height }} />
  );
}

export default function App() {
  return (
    <div style={{ position: 'absolute', left: 0, top: 0, width: 685, height: 432, background: '#fff', overflow: 'hidden' }}>
      {PANELS.map((p, i) => <ChartBox key={i} spec={p} />)}
      {LETTERS.map(([l, x, y]) => (
        <div key={l as string} style={{ position: 'absolute', left: x as number, top: y as number, font: `bold 11px ${FF}`, lineHeight: '12px' }}>{l}</div>
      ))}
    </div>
  );
}
